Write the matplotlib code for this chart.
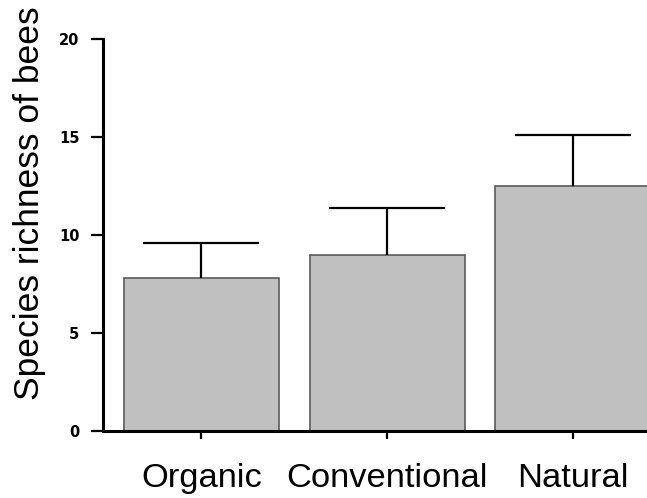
import numpy as np
import matplotlib
matplotlib.use("Agg")
import matplotlib.pyplot as plt

# values
habitats = ["Organic", "Conventional", "Natural"]
richness = [7.8, 9.0, 12.5]
richness_se = [1.8, 2.4, 2.6]
y_ticks = [0, 5, 10, 15, 20]

plt.rcParams['font.family'] = ['Liberation Sans', 'DejaVu Sans']

fig = plt.figure(figsize=(6.47, 4.98), dpi=100)
ax = fig.add_axes([103 / 647, 67 / 498, 544 / 647, 392 / 498])

x = np.arange(len(habitats))
ax.bar(x, richness, width=0.835, color='#c0c0c0', edgecolor='#5a5a5a',
       linewidth=1.2, zorder=2)

# upper error bars only
lower = np.zeros(len(richness))
eb = ax.errorbar(x, richness, yerr=[lower, richness_se], fmt='none', ecolor='black',
                 elinewidth=1.6, capsize=41.5, capthick=1.6, zorder=3)
eb[1][0].set_visible(False)  # no cap at the bar top

ax.set_xlim(-0.53, 2.40)
ax.set_ylim(0, 20)
ax.set_yticks(y_ticks)
ax.set_yticklabels([str(t) for t in y_ticks], family='DejaVu Sans',
                   fontweight='bold', fontsize=10.5)
ax.set_xticks(x)
ax.set_xticklabels(habitats, fontsize=24.8)

for side in ['top', 'right']:
    ax.spines[side].set_visible(False)
for side in ['left', 'bottom']:
    ax.spines[side].set_linewidth(2.2)
    ax.spines[side].set_color('black')
ax.spines['bottom'].set_zorder(4)

ax.tick_params(axis='y', length=9, width=1.6, pad=8, colors='black')
ax.tick_params(axis='x', length=6, width=1.6, pad=17, colors='black')

fig.text(30 / 647, (498 - 203) / 498, "Species richness of bees", rotation=90,
         fontsize=25.5, ha='center', va='center')

fig.savefig("out.png", dpi=100)
